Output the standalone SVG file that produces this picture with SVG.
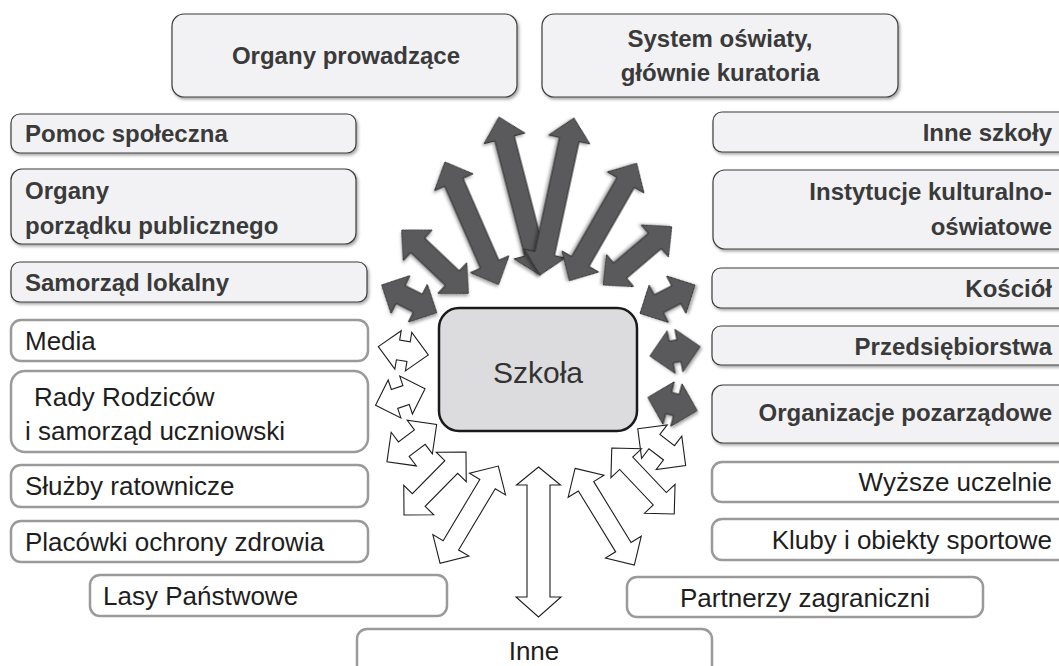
<svg xmlns="http://www.w3.org/2000/svg" width="1059" height="666" viewBox="0 0 1059 666">
<defs>
<filter id="sh" x="-20%" y="-20%" width="140%" height="140%">
<feDropShadow dx="1.5" dy="2" stdDeviation="1.5" flood-color="#000" flood-opacity="0.35"/>
</filter>
<style>
.bb{fill:#f2f2f4;stroke:#3c3c3c;stroke-width:1.2;filter:url(#sh)}
.pb{fill:#fff;stroke:#9a9a9a;stroke-width:2.5}
.bt{font-family:"Liberation Sans",Arial,sans-serif;font-weight:bold;font-size:24px;fill:#3a3a3a}
.nt{font-family:"Liberation Sans",Arial,sans-serif;font-size:26px;fill:#1e1e1e}
.da{fill:#5a5a5c;stroke:#2a2a2a;stroke-width:1;filter:url(#sh)}
.wa{fill:#fff;stroke:#1e1e1e;stroke-width:1.1}
</style>
</defs>
<rect width="1059" height="666" fill="#fff"/>

<g id="connectors">
<polygon class="da" transform="translate(435,261.7) rotate(43.5)" points="-45.95,0 -23.95,-21 -23.95,-10 23.95,-10 23.95,-21 45.95,0 23.95,21 23.95,10 -23.95,10 -23.95,21"/>
<polygon class="da" transform="translate(471.75,223.25) rotate(66.4)" points="-66.85,0 -44.85,-21 -44.85,-10 44.85,-10 44.85,-21 66.85,0 44.85,21 44.85,10 -44.85,10 -44.85,21"/>
<polygon class="da" transform="translate(519.5,196) rotate(75.45)" points="-81.6,0 -59.6,-21 -59.6,-10 59.6,-10 59.6,-21 81.6,0 59.6,21 59.6,10 -59.6,10 -59.6,21"/>
<polygon class="da" transform="translate(557,196.5) rotate(102.2)" points="-80.3,0 -58.3,-21 -58.3,-10 58.3,-10 58.3,-21 80.3,0 58.3,21 58.3,10 -58.3,10 -58.3,21"/>
<polygon class="da" transform="translate(603,222) rotate(119.86)" points="-67.7,0 -45.7,-21 -45.7,-10 45.7,-10 45.7,-21 67.7,0 45.7,21 45.7,10 -45.7,10 -45.7,21"/>
<polygon class="da" transform="translate(637.5,255.8) rotate(139.6)" points="-44.95,0 -22.95,-21 -22.95,-10 22.95,-10 22.95,-21 44.95,0 22.95,21 22.95,10 -22.95,10 -22.95,21"/>
<polygon class="da" transform="translate(409.2,298.8) rotate(26.7)" points="-30.8,0 -9.8,-21 -9.8,-10 9.8,-10 9.8,-21 30.8,0 9.8,21 9.8,10 -9.8,10 -9.8,21"/>
<polygon class="da" transform="translate(667.5,299.2) rotate(-27.3)" points="-30.95,0 -9.95,-21 -9.95,-10 9.95,-10 9.95,-21 30.95,0 9.95,21 9.95,10 -9.95,10 -9.95,21"/>
<polygon class="da" transform="translate(675,351.3) rotate(-10.6)" points="-25.5,0 -4,-21.5 -4,-11 4,-11 4,-21.5 25.5,0 4,21.5 4,11 -4,11 -4,21.5"/>
<polygon class="da" transform="translate(672.5,404) rotate(15)" points="-25.5,0 -4,-22 -4,-11 4,-11 4,-22 25.5,0 4,22 4,11 -4,11 -4,22"/>

<polygon class="wa" transform="translate(403.3,350.8) rotate(9.4)" points="-25.35,0 -5.35,-19.5 -5.35,-10 5.35,-10 5.35,-19.5 25.35,0 5.35,19.5 5.35,10 -5.35,10 -5.35,19.5"/>
<polygon class="wa" transform="translate(400.3,397) rotate(-18.5)" points="-26.1,0 -6.1,-20 -6.1,-10 6.1,-10 6.1,-20 26.1,0 6.1,20 6.1,10 -6.1,10 -6.1,20"/>
<polygon class="wa" transform="translate(411.8,443.1) rotate(-36.8)" points="-31,0 -10,-21 -10,-9 10,-9 10,-21 31,0 10,21 10,9 -10,9 -10,21"/>
<polygon class="wa" transform="translate(435,483.5) rotate(-45.5)" points="-44.2,0 -23.2,-21 -23.2,-9 23.2,-9 23.2,-21 44.2,0 23.2,21 23.2,9 -23.2,9 -23.2,21"/>
<polygon class="wa" transform="translate(469.2,514.7) rotate(-59.1)" points="-56.7,0 -35.7,-21 -35.7,-9 35.7,-9 35.7,-21 56.7,0 35.7,21 35.7,9 -35.7,9 -35.7,21"/>
<polygon class="wa" transform="translate(661.7,447.2) rotate(37.5)" points="-30.2,0 -9.2,-21 -9.2,-9 9.2,-9 9.2,-21 30.2,0 9.2,21 9.2,9 -9.2,9 -9.2,21"/>
<polygon class="wa" transform="translate(643,481) rotate(46.6)" points="-45.45,0 -24.45,-21 -24.45,-9 24.45,-9 24.45,-21 45.45,0 24.45,21 24.45,9 -24.45,9 -24.45,21"/>
<polygon class="wa" transform="translate(604.7,516.7) rotate(58.5)" points="-56.7,0 -35.7,-21 -35.7,-9 35.7,-9 35.7,-21 56.7,0 35.7,21 35.7,9 -35.7,9 -35.7,21"/>
<polygon class="wa" points="538.5,467 560.5,485 550,485 550,597 561,597 538.5,617 516,597 527,597 527,485 516.5,485"/>
</g>

<g id="szkola">
<rect x="439" y="308" width="198" height="123" rx="20" fill="#dcdcdf" stroke="#1a1a1a" stroke-width="2.5"/>
<text x="538" y="383" text-anchor="middle" font-family="'Liberation Sans',Arial,sans-serif" font-size="30" fill="#333">Szkoła</text>
</g>

<g id="organy-prowadzace">
<rect class="bb" x="172" y="14" width="345" height="83" rx="12"/>
<text class="bt" x="346" y="64" text-anchor="middle">Organy prowadzące</text>
</g>
<g id="system-oswiaty">
<rect class="bb" x="542" y="14" width="356" height="83" rx="12"/>
<text class="bt" x="720" y="47" text-anchor="middle">System oświaty,</text>
<text class="bt" x="720" y="81" text-anchor="middle">głównie kuratoria</text>
</g>

<g id="pomoc-spoleczna">
<rect class="bb" x="11" y="114" width="345" height="39" rx="9"/>
<text class="bt" x="25" y="142">Pomoc społeczna</text>
</g>
<g id="organy-porzadku">
<rect class="bb" x="11" y="169" width="345" height="75" rx="11"/>
<text class="bt" x="25" y="199">Organy</text>
<text class="bt" x="25" y="234">porządku publicznego</text>
</g>
<g id="samorzad-lokalny">
<rect class="bb" x="11" y="262" width="356" height="40" rx="9"/>
<text class="bt" x="25" y="291">Samorząd lokalny</text>
</g>
<g id="media">
<rect class="pb" x="11" y="320" width="357" height="41" rx="10"/>
<text class="nt" x="25" y="350">Media</text>
</g>
<g id="rady-rodzicow">
<rect class="pb" x="11" y="371" width="357" height="81" rx="14"/>
<text class="nt" x="34" y="406">Rady Rodziców</text>
<text class="nt" x="25" y="440">i samorząd uczniowski</text>
</g>
<g id="sluzby-ratownicze">
<rect class="pb" x="11" y="465" width="357" height="42" rx="10"/>
<text class="nt" x="25" y="495">Służby ratownicze</text>
</g>
<g id="placowki">
<rect class="pb" x="11" y="521" width="357" height="41" rx="10"/>
<text class="nt" x="25" y="551">Placówki ochrony zdrowia</text>
</g>
<g id="lasy-panstwowe">
<rect class="pb" x="90" y="575" width="357" height="41" rx="10"/>
<text class="nt" x="103" y="605">Lasy Państwowe</text>
</g>
<g id="inne">
<rect class="pb" x="357" y="629" width="355" height="50" rx="10"/>
<text class="nt" x="534" y="660" text-anchor="middle">Inne</text>
</g>
<g id="partnerzy">
<rect class="pb" x="627" y="577" width="356" height="40" rx="10"/>
<text class="nt" x="805" y="607" text-anchor="middle">Partnerzy zagraniczni</text>
</g>

<g id="inne-szkoly">
<rect class="bb" x="713" y="112" width="360" height="40" rx="9"/>
<text class="bt" x="1052" y="141" text-anchor="end">Inne szkoły</text>
</g>
<g id="instytucje">
<rect class="bb" x="713" y="170" width="360" height="79" rx="12"/>
<text class="bt" x="1052" y="200" text-anchor="end">Instytucje kulturalno-</text>
<text class="bt" x="1052" y="235" text-anchor="end">oświatowe</text>
</g>
<g id="kosciol">
<rect class="bb" x="712" y="268" width="360" height="40" rx="9"/>
<text class="bt" x="1052" y="297" text-anchor="end">Kościół</text>
</g>
<g id="przedsiebiorstwa">
<rect class="bb" x="712" y="326" width="360" height="39" rx="9"/>
<text class="bt" x="1052" y="355" text-anchor="end">Przedsiębiorstwa</text>
</g>
<g id="organizacje">
<rect class="bb" x="712" y="385" width="360" height="58" rx="11"/>
<text class="bt" x="1052" y="421" text-anchor="end">Organizacje pozarządowe</text>
</g>
<g id="wyzsze-uczelnie">
<rect class="pb" x="712" y="462" width="360" height="40" rx="10"/>
<text class="nt" x="1052" y="491" text-anchor="end">Wyższe uczelnie</text>
</g>
<g id="kluby">
<rect class="pb" x="712" y="519" width="360" height="41" rx="10"/>
<text class="nt" x="1052" y="549" text-anchor="end">Kluby i obiekty sportowe</text>
</g>
</svg>
